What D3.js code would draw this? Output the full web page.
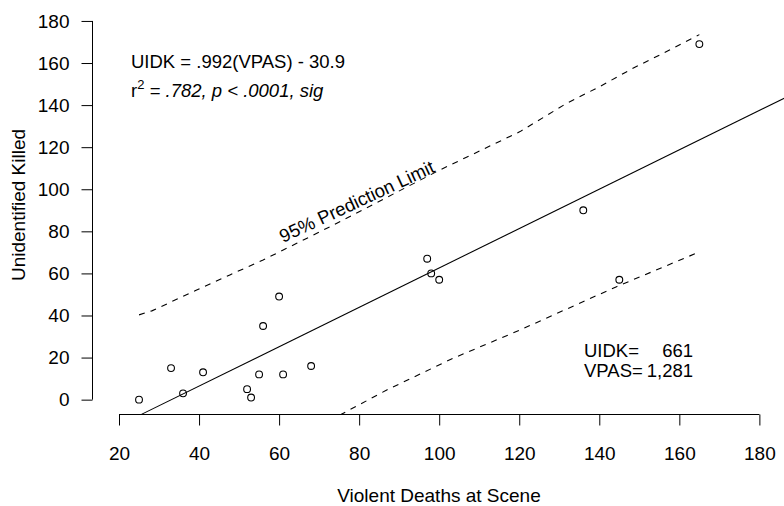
<!DOCTYPE html>
<html>
<head>
<meta charset="utf-8">
<script src="https://cdn.jsdelivr.net/npm/d3@7"></script>
<style>
  body { margin: 0; background: #fff; }
  svg text { font-family: "Liberation Sans", Arial, sans-serif; fill: #000; }
</style>
</head>
<body>
<svg width="784" height="506"></svg>
<script>
// violent deaths at scene (x) vs unidentified killed (y)
var vpas = [25, 33, 36, 41, 52, 53, 55, 56, 60, 61, 68, 97, 98, 100, 136, 145, 165];
var uidk = [0, 15, 3, 13, 5, 1, 12, 35, 49, 12, 16, 67, 60, 57, 90, 57, 169];

// fitted line, as drawn (end points)
var fitX = [25.6, 187];
var fitY = [-7.0, 144];

// 95% prediction limits
var upperX = [25, 28.2, 39.4, 47.7, 56, 64.4, 72.7, 100.2, 120.2, 131.8, 140.1, 148.4, 155.9, 165];
var upperY = [40.3, 42.2, 52.1, 59.3, 66.4, 74.3, 82.2, 109.2, 127.4, 140.8, 148.8, 157.5, 164.6, 173.5];
var lowerX = [75.2, 86.9, 103.5, 120.2, 144.3, 165.1];
var lowerY = [-7.3, 4.6, 19.7, 33.1, 53.7, 70.3];

var xTicks = [20, 40, 60, 80, 100, 120, 140, 160, 180];
var yTicks = [0, 20, 40, 60, 80, 100, 120, 140, 160, 180];

var totals = [["UIDK=", "661"], ["VPAS=", "1,281"]];

function main() {
    var svg = d3.select("svg"),
        fs = 19,     // axis text
        fsNote = 18.5; // notes inside the plot

    // R style: 4% padding round the data range
    var x = d3.scaleLinear().domain([13.6, 186.4]).range([93.4, 785]);
    var y = d3.scaleLinear().domain([-7.2, 187.2]).range([414.8, 5.8]);

    svg.append("clipPath").attr("id", "plotclip")
        .append("rect")
        .attr("x", x.range()[0]).attr("y", y.range()[1])
        .attr("width", x.range()[1] - x.range()[0])
        .attr("height", y.range()[0] - y.range()[1]);

    // y axis
    var yAxis = svg.append("g")
        .attr("transform", "translate(92.5,0)")
        .call(d3.axisLeft(y).tickValues(yTicks).tickSize(11).tickPadding(12));
    yAxis.select(".domain").remove();
    yAxis.append("line")
        .attr("y1", y(0)).attr("y2", y(180))
        .attr("stroke", "#000");
    yAxis.selectAll("text").style("font-size", fs + "px").attr("fill", "#000");
    yAxis.selectAll(".tick line").attr("stroke", "#000");

    // x axis
    var xAxis = svg.append("g")
        .attr("transform", "translate(0,414.5)")
        .call(d3.axisBottom(x).tickValues(xTicks).tickSize(11).tickPadding(21));
    xAxis.select(".domain").remove();
    xAxis.append("line")
        .attr("x1", x(20)).attr("x2", x(180))
        .attr("stroke", "#000");
    xAxis.selectAll("text").style("font-size", fs + "px").attr("fill", "#000");
    xAxis.selectAll(".tick line").attr("stroke", "#000");

    var plot = svg.append("g").attr("clip-path", "url(#plotclip)");

    var line = d3.line()
        .x(function(d) { return x(d[0]); })
        .y(function(d) { return y(d[1]); });

    plot.append("path")
        .attr("d", line(d3.zip(fitX, fitY)))
        .attr("fill", "none")
        .attr("stroke", "#000")
        .attr("stroke-width", 1.1);

    [[upperX, upperY], [lowerX, lowerY]].forEach(function(b) {
        plot.append("path")
            .attr("d", line(d3.zip(b[0], b[1])))
            .attr("fill", "none")
            .attr("stroke", "#000")
            .attr("stroke-width", 1.1)
            .attr("stroke-dasharray", "6,6");
    });

    plot.selectAll("circle")
        .data(d3.zip(vpas, uidk))
        .enter().append("circle")
        .attr("cx", function(d) { return x(d[0]); })
        .attr("cy", function(d) { return y(d[1]); })
        .attr("r", 3.4)
        .attr("fill", "none")
        .attr("stroke", "#000")
        .attr("stroke-width", 1.1);

    // label on the upper limit
    svg.append("text")
        .attr("transform", "translate(" + x(61) + "," + y(74.5) + ") rotate(-25)")
        .style("font-size", fsNote + "px")
        .text("95% Prediction Limit");

    // regression equation
    svg.append("text")
        .attr("x", 131).attr("y", 68)
        .style("font-size", fsNote + "px")
        .text("UIDK = .992(VPAS) - 30.9");

    var r2 = svg.append("text")
        .attr("x", 131).attr("y", 96.5)
        .style("font-size", fsNote + "px");
    r2.append("tspan").text("r");
    r2.append("tspan").attr("dy", -8).style("font-size", "13px").text("2");
    r2.append("tspan").attr("dy", 8).style("font-style", "italic").text(" = .782, p < .0001, sig");

    // totals
    totals.forEach(function(t, i) {
        svg.append("text")
            .attr("x", 584).attr("y", 356.5 + i * 20.5)
            .style("font-size", fsNote + "px")
            .text(t[0]);
        svg.append("text")
            .attr("x", 693).attr("y", 356.5 + i * 20.5)
            .attr("text-anchor", "end")
            .style("font-size", fsNote + "px")
            .text(t[1]);
    });

    // axis titles
    svg.append("text")
        .attr("x", 439).attr("y", 502)
        .attr("text-anchor", "middle")
        .style("font-size", fs + "px")
        .text("Violent Deaths at Scene");

    svg.append("text")
        .attr("transform", "translate(25,205) rotate(-90)")
        .attr("text-anchor", "middle")
        .style("font-size", fs + "px")
        .text("Unidentified Killed");
}

main();
</script>
</body>
</html>
